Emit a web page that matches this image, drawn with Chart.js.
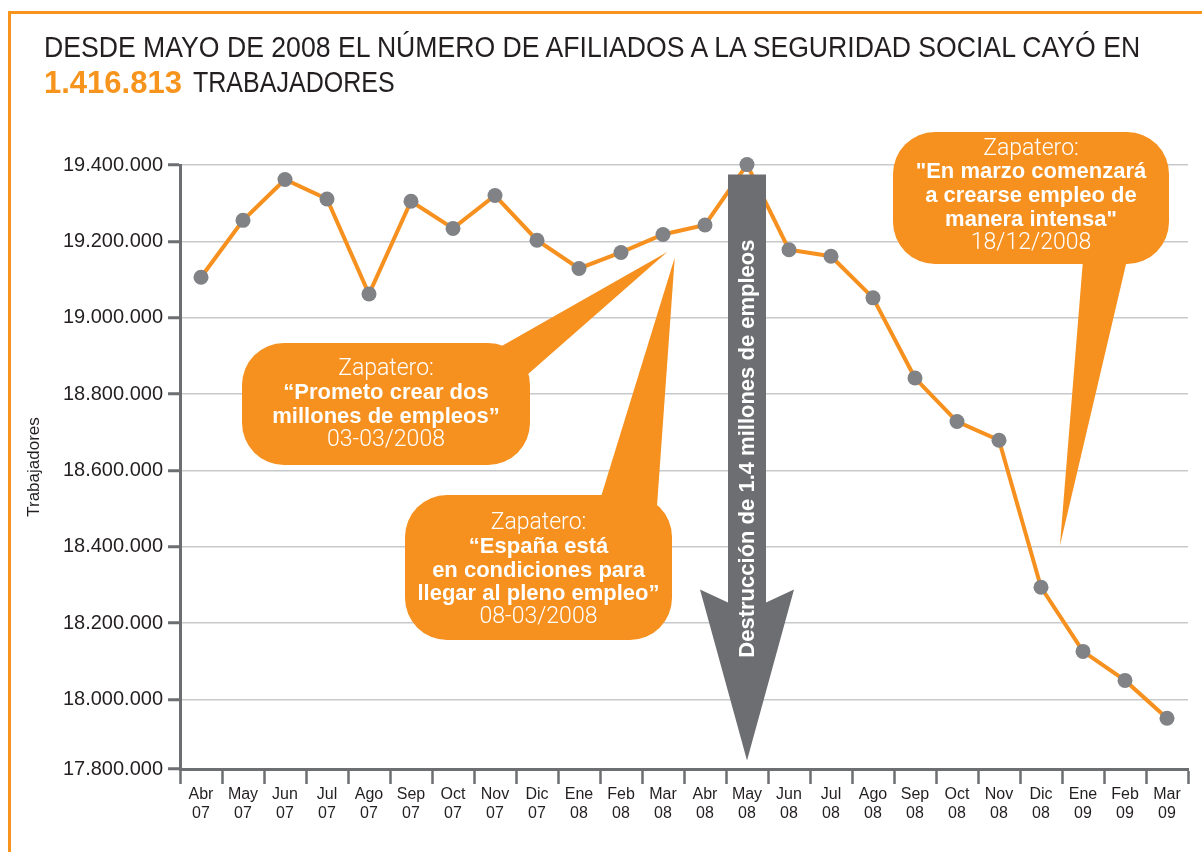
<!DOCTYPE html>
<html>
<head>
<meta charset="utf-8">
<script src="https://cdn.jsdelivr.net/npm/chart.js@4.4.1/dist/chart.umd.min.js"></script>
<style>
  body { margin: 0; width: 1202px; height: 852px; overflow: hidden; position: relative; background: #fff;
         font-family: 'Liberation Sans', Arial, sans-serif; }
  #frame { position: absolute; left: 8px; top: 11px; width: 1300px; height: 900px;
           border-top: 3px solid #f7941d; border-left: 3px solid #f7941d; }
  #chart { position: absolute; left: 0; top: 0; }
  .t { position: absolute; font-size: 29px; line-height: 35px; color: #231f20; white-space: nowrap; transform-origin: 0 0; }
  #t1 { left: 44px; top: 30px; }
  #t2 { left: 44px; top: 65px; color: #f7941d; font-weight: bold; font-size: 31px; }
  #t3 { left: 193px; top: 65px; }
</style>
</head>
<body>
<div id="frame"></div>
<canvas id="chart" width="1202" height="852"></canvas>
<div class="t" id="t1">DESDE MAYO DE 2008 EL NÚMERO DE AFILIADOS A LA SEGURIDAD SOCIAL CAYÓ EN</div>
<div class="t" id="t2">1.416.813</div>
<div class="t" id="t3">TRABAJADORES</div>
<script>
// meses (etiquetas de dos lineas)
const months = [
  ['Abr', '07'], ['May', '07'], ['Jun', '07'], ['Jul', '07'], ['Ago', '07'], ['Sep', '07'],
  ['Oct', '07'], ['Nov', '07'], ['Dic', '07'], ['Ene', '08'], ['Feb', '08'], ['Mar', '08'],
  ['Abr', '08'], ['May', '08'], ['Jun', '08'], ['Jul', '08'], ['Ago', '08'], ['Sep', '08'],
  ['Oct', '08'], ['Nov', '08'], ['Dic', '08'], ['Ene', '09'], ['Feb', '09'], ['Mar', '09']
];

// afiliados a la seguridad social
const afiliados = [
  19106000, 19255000, 19362000, 19311000, 19062000, 19305000,
  19234000, 19320000, 19203000, 19129000, 19171000, 19218000,
  19243000, 19401000, 19178000, 19161000, 19052000, 18842000,
  18728000, 18679000, 18294000, 18126000, 18050000, 17951000
];

// valores del eje y
const yTicks = [17800000, 18000000, 18200000, 18400000, 18600000, 18800000, 19000000, 19200000, 19400000];
const yMin = 17818000;   // la base del eje en el original queda un poco por encima de 17.800.000
const yMax = 19400000;

// bocadillos
const callouts = [
  {
    lines: [['Zapatero:', 0], ['\u201cPrometo crear dos', 1], ['millones de empleos\u201d', 1], ['03-03/2008', 0]],
    box: [242, 343, 288, 122], dy: 1, tip: [11.1, 19172000], base: [[500, 347], [527, 375]]
  },
  {
    lines: [['Zapatero:', 0], ['\u201cEspa\u00f1a est\u00e1', 1], ['en condiciones para', 1], ['llegar al pleno empleo\u201d', 1], ['08-03/2008', 0]],
    box: [405, 495, 267, 145], dy: 3, tip: [11.28, 19158000], base: [[600, 500], [657, 506]]
  },
  {
    lines: [['Zapatero:', 0], ['"En marzo comenzar\u00e1', 1], ['a crearse empleo de', 1], ['manera intensa"', 1], ['18/12/2008', 0]],
    box: [893, 132, 276, 132], dy: -2, tip: [20.45, 18403000], base: [[1083, 260], [1127, 260]]
  }
];

const arrowAt = 13;            // May 08
const arrowTop = 19375000;
const arrowTip = 17840000;
const arrowText = 'Destrucci\u00f3n de 1.4 millones de empleos';

const ORANGE = '#f6901e';
const GRAY = '#6d6e71';
const TEXT = '#231f20';

function fmt(v) {
  return String(v).replace(/\B(?=(\d{3})+(?!\d))/g, '.');
}

// titulo condensado: se estrecha hasta el ancho del original
function squeeze(id, w) {
  const el = document.getElementById(id);
  el.style.transform = 'scaleX(' + (w / el.offsetWidth) + ')';
}
squeeze('t1', 1096);
squeeze('t3', 202);

const decor = {
  id: 'decor',
  afterDatasetsDraw(chart) {
    const { ctx, scales: { x, y } } = chart;
    ctx.save();

    callouts.forEach(c => {
      const [bx, by, bw, bh] = c.box;
      ctx.fillStyle = ORANGE;
      ctx.beginPath();
      ctx.roundRect(bx, by, bw, bh, 42);
      ctx.fill();
      ctx.beginPath();
      ctx.moveTo(c.base[0][0], c.base[0][1]);
      ctx.lineTo(x.getPixelForValue(c.tip[0]), y.getPixelForValue(c.tip[1]));
      ctx.lineTo(c.base[1][0], c.base[1][1]);
      ctx.closePath();
      ctx.fill();

      ctx.fillStyle = '#fff';
      ctx.textAlign = 'center';
      ctx.textBaseline = 'middle';
      const lh = 23.6;
      const y0 = by + bh / 2 - (c.lines.length - 1) * lh / 2 + c.dy;
      c.lines.forEach((l, i) => {
        ctx.font = l[1] ? 'bold 22px "Liberation Sans", Arial, sans-serif' : '300 23px Roboto, "Liberation Sans", sans-serif';
        ctx.fillText(l[0], bx + bw / 2, y0 + i * lh);
      });
    });

    // flecha
    const ax = x.getPixelForValue(arrowAt);
    const top = y.getPixelForValue(arrowTop);
    const tipY = y.getPixelForValue(arrowTip);
    ctx.fillStyle = GRAY;
    ctx.beginPath();
    ctx.moveTo(ax - 19, top);
    ctx.lineTo(ax + 19, top);
    ctx.lineTo(ax + 19, tipY - 158);
    ctx.lineTo(ax + 47, tipY - 171);
    ctx.lineTo(ax, tipY);
    ctx.lineTo(ax - 47, tipY - 171);
    ctx.lineTo(ax - 19, tipY - 158);
    ctx.closePath();
    ctx.fill();

    ctx.translate(ax, (top + tipY) / 2 - 19);
    ctx.rotate(-Math.PI / 2);
    ctx.fillStyle = '#fff';
    ctx.font = 'bold 22px "Liberation Sans", Arial, sans-serif';
    ctx.textAlign = 'center';
    ctx.textBaseline = 'middle';
    ctx.fillText(arrowText, 0, 1);
    ctx.restore();
  }
};

new Chart(document.getElementById('chart'), {
  type: 'line',
  data: {
    labels: months,
    datasets: [{
      data: afiliados,
      borderColor: ORANGE,
      borderWidth: 4,
      pointRadius: 7.5,
      pointHoverRadius: 7.5,
      pointBackgroundColor: '#808285',
      pointBorderWidth: 0,
      tension: 0,
      clip: false
    }]
  },
  options: {
    responsive: false,
    animation: false,
    events: [],
    layout: { padding: { top: 165, right: 14, bottom: 0, left: 0 } },
    plugins: {
      legend: { display: false },
      tooltip: { enabled: false }
    },
    scales: {
      x: {
        offset: true,
        grid: { offset: true, drawOnChartArea: false, tickLength: 15, tickColor: GRAY, tickWidth: 2.5 },
        border: { color: GRAY, width: 3 },
        ticks: {
          color: TEXT, padding: 1, maxRotation: 0, autoSkip: false,
          font: { family: "'Liberation Sans', Arial", size: 16, lineHeight: 1.18 }
        },
        afterFit: s => { s.height = 83; }
      },
      y: {
        min: yMin,
        max: yMax,
        afterBuildTicks: s => { s.ticks = yTicks.map(v => ({ value: Math.max(v, yMin) })); },
        grid: { color: '#c8c9cb', lineWidth: 1.5, tickLength: 12, tickColor: GRAY, tickWidth: 3 },
        border: { color: GRAY, width: 3 },
        ticks: {
          color: TEXT, padding: 5,
          font: { family: "'Liberation Sans', Arial", size: 20 },
          callback: (v, i) => fmt(yTicks[i])
        },
        title: {
          display: true, text: 'Trabajadores', color: TEXT,
          font: { family: "'Liberation Sans', Arial", size: 17 },
          padding: { top: 24, bottom: 0 }
        },
        afterFit: s => { s.width = 180; }
      }
    }
  },
  plugins: [decor]
});
</script>
</body>
</html>
